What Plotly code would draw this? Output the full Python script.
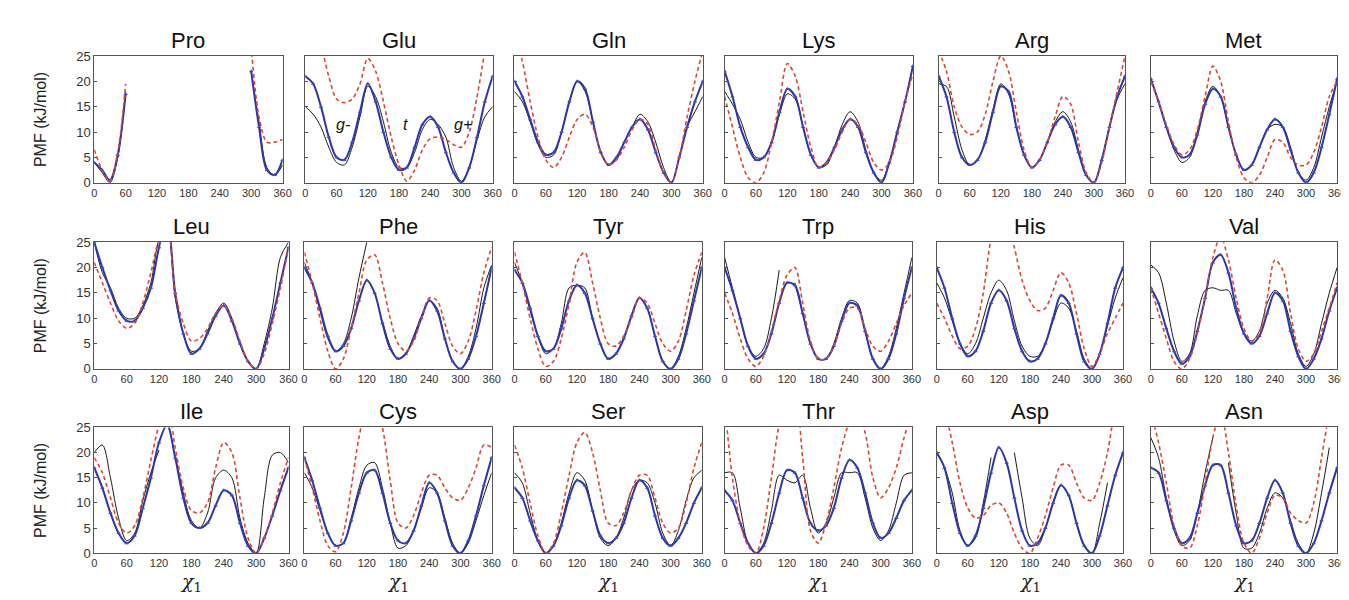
import plotly.graph_objects as go

N = None
CHI = list(range(0, 361, 15))
X_TICKS = [0, 60, 120, 180, 240, 300, 360]
Y_TICKS = [0, 5, 10, 15, 20, 25]
NAMES = ["Pro", "Glu", "Gln", "Lys", "Arg", "Met",
         "Leu", "Phe", "Tyr", "Trp", "His", "Val",
         "Ile", "Cys", "Ser", "Thr", "Asp", "Asn"]

#            0    15   30   45   60   75   90  105  120  135  150  165  180  195  210  225  240  255  270  285  300  315  330  345  360
PRO_BLACK = [4, 2, 0, 5, 18, N, N, N, N, N, N, N, N, N, N, N, N, N, N, N, 22, 12, 3, 1.5, 3.5]
PRO_BLUE = [4, 2.5, 0.5, 5.5, 17.5, N, N, N, N, N, N, N, N, N, N, N, N, N, N, N, 22, 11, 2.5, 1.5, 4.5]
PRO_RED = [6.5, 2.5, 0.3, 6, 19.5, N, N, N, N, N, N, N, N, N, N, N, N, N, N, N, 27, 13, 8, 8, 8.5]

GLU_BLACK = [15, 13.5, 11, 7, 4, 3.5, 7, 13, 19, 17, 12, 6, 3, 3, 6, 10.5, 12.5, 11.5, 9, 3, 0.3, 3, 8.5, 13, 15]
GLU_BLUE = [21, 19.5, 15, 9, 5, 4.5, 8, 14, 19.5, 16, 10, 5, 2.5, 3, 7, 11.5, 13, 11, 6, 2, 0, 3, 9, 16, 21]
GLU_RED = [35, 31, 27, 21, 16.5, 15.8, 16.5, 19.5, 24.5, 22, 16, 9, 3.5, 0.3, 2.5, 6.5, 8.7, 9, 8.5, 7.5, 7, 10, 17, 26, 35]

GLN_BLACK = [18, 16, 12, 7.5, 5, 5.5, 10, 16, 20, 18, 12, 6, 3.5, 4.5, 8, 11, 13.5, 12, 8, 3, 0, 5, 11, 14, 17]
GLN_BLUE = [20, 17, 12.5, 8, 5.5, 6, 10, 16, 20, 18.5, 12, 6, 3.5, 5, 8, 11, 12.5, 10.5, 6, 2, 0, 5, 11, 16, 20]
GLN_RED = [30, 24, 16, 9, 4.5, 3, 5, 9, 12.5, 13.5, 11, 6, 3.5, 4.5, 7, 10.5, 12.5, 11.5, 6.5, 2, 0, 5, 13, 20, 26]

LYS_BLACK = [18, 15.5, 12.5, 8, 5, 5, 8, 13.5, 17.5, 16.5, 11, 5.5, 3, 3.5, 7, 11.5, 14, 12, 6.5, 2, 0.5, 4, 10, 16, 23]
LYS_BLUE = [22, 17, 11, 7, 4.5, 5, 8, 14, 18.5, 17, 11, 5.5, 3, 4, 7, 10.5, 12.5, 11, 6, 2, 0, 4, 10, 16, 23]
LYS_RED = [17, 11, 5, 1, 0, 2, 8, 16, 23.5, 21, 14, 7, 3, 4, 6.5, 10, 12.5, 11.5, 8, 4, 2.5, 4, 9, 16, 21.5]

ARG_BLACK = [19.5, 19, 13, 6.5, 3.5, 4.5, 8.5, 14.5, 19.5, 17.5, 11, 5.5, 3, 4.5, 8, 12, 14, 12, 6.5, 1.5, 0, 4.5, 11, 16.5, 19.5]
ARG_BLUE = [21, 17, 10, 5, 3.5, 4.5, 8, 14, 19, 18, 11, 5.5, 3, 4.5, 8, 11.5, 13, 11, 6, 1.5, 0, 4.5, 11, 17, 21]
ARG_RED = [26, 22, 15, 11, 9.5, 10, 13.5, 20, 25, 22, 14, 6.5, 3, 4.5, 8, 13, 17, 15.5, 8, 2, 0, 4, 11, 18, 25]

MET_BLACK = [20.5, 16, 11, 6.5, 4, 5, 10, 16, 19, 17, 11, 5.5, 2.5, 3.5, 7, 10.5, 11.5, 11, 7, 2, 0.5, 3, 9, 15, 20]
MET_BLUE = [20.5, 16, 11, 7, 5, 5.5, 9.5, 15.5, 18.5, 17, 11, 5.5, 2.5, 3.5, 7, 10.5, 12.5, 11, 6.5, 2, 0, 2, 7, 13.5, 20.5]
MET_RED = [20, 16, 11.5, 7.5, 5.5, 6.5, 10.5, 17, 23, 20, 12, 5, 1, 0, 1.5, 5, 8.5, 8, 5, 3.5, 3.5, 6, 11, 17, 20]

LEU_BLACK = [25, 19, 16, 12, 10, 10, 12.5, 17, 25.5, 28, 14, 7, 3.5, 4, 7.5, 11, 13, 10, 5, 1.5, 0, 5, 12, 22, 25]
LEU_BLUE = [25, 20, 15.5, 11.5, 9.5, 9.5, 12, 16, 24, 30, 15, 7, 3, 4, 7, 10.5, 12.5, 9.5, 5, 1.5, 0, 4, 10, 17, 24]
LEU_RED = [21, 17, 13, 9.5, 8, 9, 13, 19, 25.5, 28, 15, 9, 5.5, 6, 8, 11, 12.5, 10, 5.5, 1.5, 0, 3, 9, 16, 24]

PHE_BLACK = [21, 17, 11.5, 6, 3.5, 5, 10, 18, 25, N, 9.5, 4.5, 2, 3, 6.5, 10.5, 13.5, 12, 6, 1.5, 0, 2.5, 8, 16, 20.5]
PHE_BLUE = [20, 17, 12, 6.5, 3.5, 4.5, 8, 13.5, 17.5, 15, 9, 4, 2, 3, 6, 10, 13.5, 11.5, 6, 1.5, 0, 2, 6.5, 13, 20]
PHE_RED = [23, 17, 10, 3.5, 0, 2, 8, 15, 21.5, 22.5, 17, 10, 5, 3.5, 5.5, 10, 14, 13.5, 9, 4.5, 3, 5.5, 11.5, 19, 24]

TYR_BLACK = [21, 17, 11.5, 6.5, 3, 4, 9, 16, 16.5, 16, 10, 5, 2, 3, 6, 10.5, 14, 12, 6.5, 1.5, 0, 2.5, 8, 15, 22]
TYR_BLUE = [19.5, 17, 12, 6.5, 3.5, 4, 8, 13.5, 16.5, 15, 10, 5, 2, 3, 6, 10.5, 14, 12, 6.5, 1.5, 0, 2, 7, 13.5, 20]
TYR_RED = [23, 17, 10, 4, 0.5, 1.5, 6, 13, 21, 23, 17, 10, 5, 4.5, 6.5, 10, 14, 13, 9, 5, 3.5, 5.5, 11.5, 18.5, 23]

TRP_BLACK = [22, 16, 10, 4.5, 2.5, 4, 10, 19.5, N, 17, 11, 5, 2, 2, 5, 10, 13.5, 13, 7.5, 2, 0, 2.5, 8, 15, 22]
TRP_BLUE = [20, 15.5, 10, 4.5, 2, 3, 7, 13, 17, 16.5, 11, 5, 2, 2, 4.5, 9.5, 13, 12.5, 7.5, 2, 0, 2, 7, 14, 20]
TRP_RED = [15, 11, 6, 2, 0.5, 2.5, 7.5, 13.5, 18.5, 20, 13, 5.5, 2, 2, 4.5, 9, 12, 12, 8, 4.5, 3.5, 5.5, 9, 12.5, 15]

HIS_BLACK = [17, 14, 9.5, 5, 3, 5, 10, 15, 17.5, 15.5, 9.5, 4.5, 2.5, 2.5, 5, 9.5, 13, 12, 7.5, 2, 0, 3, 8.5, 14, 18]
HIS_BLUE = [20, 16, 10, 5, 2.5, 3.5, 7.5, 13, 15.5, 13.5, 8, 3.5, 1.5, 2, 5, 10, 14.5, 13, 7, 1.5, 0, 3, 9, 16, 20]
HIS_RED = [13, 10, 6.5, 4, 4.5, 8, 15, 25.5, 30, 30, 24, 17.5, 13.5, 11.5, 12, 15.5, 19, 17, 11, 4, 0.5, 3, 7, 10, 13]

VAL_BLACK = [20.5, 19, 13, 5.5, 1.5, 3, 10.5, 15.5, 16, 15.5, 15.5, 11, 7, 5.5, 7.5, 13, 15.5, 14, 9, 3, 0.5, 3, 9, 15, 20]
VAL_BLUE = [16, 13, 8, 3.5, 1, 2.5, 7.5, 14, 21, 22.5, 19, 12, 7, 5, 6.5, 11, 15, 13.5, 7.5, 2.5, 0, 2, 6, 11.5, 16]
VAL_RED = [16, 11, 6, 1.5, 0, 2, 7, 14, 22, 26, 21.5, 14, 8, 5.5, 7, 14, 21.5, 19.5, 11, 4, 1.5, 3, 7.5, 12, 17]

ILE_BLACK = [20, 21.5, 15, 7, 2.5, 4, 10.5, 16, 20.5, N, 19.5, 12, 6.5, 5, 8, 15, 16.5, 15, 7, 2, 0, 11, 19.5, 20, 18]
ILE_BLUE = [17, 13, 8, 4, 2, 3.5, 9, 15, 22, 25.5, 19, 11, 6, 5, 6, 9.5, 12.5, 11.5, 6, 1.5, 0, 3, 7.5, 12.5, 17]
ILE_RED = [19, 16, 11, 6, 4, 5.5, 11, 18.5, 25.5, 30, 21, 13, 8.5, 8, 10, 17, 22, 20, 11, 3, 0, 3, 8, 14, 19]

CYS_BLACK = [16, 13, 8.5, 4, 1.5, 2, 7, 13, 17.5, 18, 13, 6, 1, 1.5, 4.5, 9, 13, 12, 7, 2, 0, 2, 6.5, 11.5, 16]
CYS_BLUE = [19, 14.5, 9, 4, 1.5, 2, 6.5, 12, 16, 16.5, 12, 6, 2.5, 2, 4.5, 9.5, 14, 12, 6.5, 1.5, 0, 2.5, 7.5, 13.5, 19]
CYS_RED = [19, 13, 6.5, 1.5, 0.3, 4, 13, 23, 29, 30, 25, 14.5, 6, 5, 7.5, 12, 15.5, 15.5, 13, 11, 10.5, 13, 17, 21.5, 21]

SER_BLACK = [16, 14, 8, 2.5, 0, 1.5, 6, 12, 16, 14.5, 8.5, 3, 1.5, 3, 7, 12.5, 14.5, 14, 10, 4, 1.5, 4.5, 10.5, 15, 16.5]
SER_BLUE = [13, 11, 6.5, 2.5, 0, 1.5, 5.5, 11, 14.5, 13.5, 8.5, 3.5, 2, 3, 6, 11, 14.5, 13, 7.5, 3, 1.5, 3, 6, 10, 13]
SER_RED = [21.5, 17, 10, 3.5, 0, 2, 8, 15.5, 22, 24, 20, 12.5, 6, 5.5, 8, 12.5, 15.5, 15.5, 11, 6, 4, 5, 10, 17, 22]

THR_BLACK = [16, 16, 9, 2, 0, 2, 8.5, 15.5, 14.5, 14, 15.5, 9, 4, 6, 11, 16, 16, 16, 11, 5, 2.5, 4.5, 10, 15.5, 16]
THR_BLUE = [12.5, 10.5, 6, 2, 0, 1.5, 6, 12, 16.5, 16, 11, 6, 4.5, 5.5, 9, 15, 18.5, 17, 12, 6, 3, 4, 7, 10.5, 12.5]
THR_RED = [30, 15, 6, 1.5, 0, 5, 15, 25.5, 30, 30, 19, 4.5, 2, 6, 13, 21, 26, 28, 24, 15, 11, 13, 17, 23, 28]

ASP_BLACK = [20, 17, 12, 4.5, 1.5, 3, 10, 19, N, N, 20, 11, 3, 1.5, 5, 10, 13.5, 11.5, 6, 1.5, 0, 6, 14, N, N]
ASP_BLUE = [20, 17, 10, 4, 1.5, 3.5, 9, 16, 21, 18, 11, 4.5, 1.5, 2, 5, 10, 13.5, 11.5, 6, 1.5, 0, 3.5, 9.5, 15.5, 20]
ASP_RED = [30, 28, 22, 14, 9, 7, 7.5, 9.5, 10, 8, 4, 1, 0, 3, 7.5, 13, 17.5, 17.5, 14, 11, 10.5, 14, 20, 29, 35]

ASN_BLACK = [23, 19, 11, 4.5, 1.5, 2.5, 8, 16, 23, N, 18, 8, 1, 1, 4, 9, 12, 11, 6.5, 2, 0, 4, 12, 21, N]
ASN_BLUE = [17, 16, 10.5, 5, 2, 3, 8, 13.5, 17.5, 17.5, 12, 5.5, 2, 2.5, 6, 11, 14.5, 12, 6, 1.5, 0, 2, 6.5, 12, 17]
ASN_RED = [28, 22, 14, 5.5, 1.5, 1, 5.5, 14, 23, 28, 20, 9.5, 2, 0, 3, 8, 11.5, 11, 8, 6.5, 6, 10, 19, 28, 35]

BLACK = [PRO_BLACK, GLU_BLACK, GLN_BLACK, LYS_BLACK, ARG_BLACK, MET_BLACK,
         LEU_BLACK, PHE_BLACK, TYR_BLACK, TRP_BLACK, HIS_BLACK, VAL_BLACK,
         ILE_BLACK, CYS_BLACK, SER_BLACK, THR_BLACK, ASP_BLACK, ASN_BLACK]
BLUE = [PRO_BLUE, GLU_BLUE, GLN_BLUE, LYS_BLUE, ARG_BLUE, MET_BLUE,
        LEU_BLUE, PHE_BLUE, TYR_BLUE, TRP_BLUE, HIS_BLUE, VAL_BLUE,
        ILE_BLUE, CYS_BLUE, SER_BLUE, THR_BLUE, ASP_BLUE, ASN_BLUE]
RED = [PRO_RED, GLU_RED, GLN_RED, LYS_RED, ARG_RED, MET_RED,
       LEU_RED, PHE_RED, TYR_RED, TRP_RED, HIS_RED, VAL_RED,
       ILE_RED, CYS_RED, SER_RED, THR_RED, ASP_RED, ASN_RED]

GLU_LABELS = ["g-", "t", "g+"]

# ---- layout (pixels) ----
W, H = 1349, 600
COLS_ROW1 = [(84, 274), (297, 486), (508, 698), (720, 910), (936, 1124), (1150, 1338)]
COLS_ROW23 = [(84, 280), (296, 485), (508, 697), (720, 909), (934, 1122), (1150, 1338)]
ROWS = [(42, 172), (233, 363), (423, 552)]


def px(x):
    return x / W


def py(y):
    return 1 - y / H


fig = go.Figure()
annotations = []
layout = {}

for k, name in enumerate(NAMES):
    r, c = divmod(k, 6)
    i = k + 1
    cols = COLS_ROW1 if r == 0 else COLS_ROW23
    x0, x1 = cols[c]
    y0, y1 = ROWS[r]
    xa = "x" if i == 1 else f"x{i}"
    ya = "y" if i == 1 else f"y{i}"

    fig.add_trace(go.Scatter(x=CHI, y=BLACK[k], xaxis=xa, yaxis=ya, mode="lines",
                             line=dict(color="#1a1a1a", width=1, shape="spline", smoothing=0.9),
                             connectgaps=False, hoverinfo="skip"))
    fig.add_trace(go.Scatter(x=CHI, y=BLUE[k], xaxis=xa, yaxis=ya, mode="lines+markers",
                             line=dict(color="#2b35b0", width=2, shape="spline", smoothing=0.9),
                             marker=dict(symbol="triangle-up", size=4, color="#3a4bd0"),
                             connectgaps=False, hoverinfo="skip"))
    fig.add_trace(go.Scatter(x=CHI, y=RED[k], xaxis=xa, yaxis=ya, mode="lines",
                             line=dict(color="#e0462e", width=1.6, dash="4px,3px", shape="spline", smoothing=0.9),
                             connectgaps=False, hoverinfo="skip"))

    layout["xaxis" if i == 1 else f"xaxis{i}"] = dict(
        domain=[px(x0), px(x1)], anchor=ya, range=[0, 360], tickvals=X_TICKS,
        showgrid=False, zeroline=False, showline=True, mirror=True,
        linecolor="#555555", linewidth=1, ticks="", ticklabeloverflow="allow",
        tickfont=dict(family="Arial", size=11, color="#333333"))
    layout["yaxis" if i == 1 else f"yaxis{i}"] = dict(
        domain=[py(y1), py(y0)], anchor=xa, range=[0, 25], tickvals=Y_TICKS,
        showgrid=False, zeroline=False, showline=True, mirror=True,
        linecolor="#555555", linewidth=1, ticks="inside", ticklen=3, tickcolor="#555555",
        showticklabels=(c == 0),
        tickfont=dict(family="Arial", size=13, color="#333333"))

    annotations.append(dict(text=name, x=px((x0 + x1) / 2), y=py(y0 - 1), xref="paper", yref="paper",
                            xanchor="center", yanchor="bottom", showarrow=False,
                            font=dict(family="Arial", size=22, color="#111111")))
    if r == 2:
        annotations.append(dict(text="<i>χ</i><sub>1</sub>", x=px((x0 + x1) / 2), y=py(582),
                                xref="paper", yref="paper", xanchor="center", yanchor="middle",
                                showarrow=False, font=dict(family="DejaVu Serif", size=19, color="#222222")))

for r, (y0, y1) in enumerate(ROWS):
    annotations.append(dict(text="PMF (kJ/mol)", x=px(30), y=py((y0 + y1) / 2), xref="paper", yref="paper",
                            xanchor="center", yanchor="middle", textangle=-90, showarrow=False,
                            font=dict(family="Arial", size=16, color="#222222")))

for lab, xx in zip(GLU_LABELS, [335, 398, 456]):
    annotations.append(dict(text=f"<i>{lab}</i>", x=px(xx), y=py(112), xref="paper", yref="paper",
                            xanchor="center", yanchor="middle", showarrow=False,
                            font=dict(family="Arial", size=16, color="#111111")))

fig.update_layout(**layout)
fig.update_layout(width=W, height=H, autosize=False, showlegend=False,
                  margin=dict(l=0, r=0, t=0, b=0),
                  paper_bgcolor="white", plot_bgcolor="white",
                  annotations=annotations)

fig.write_html("out.html")
